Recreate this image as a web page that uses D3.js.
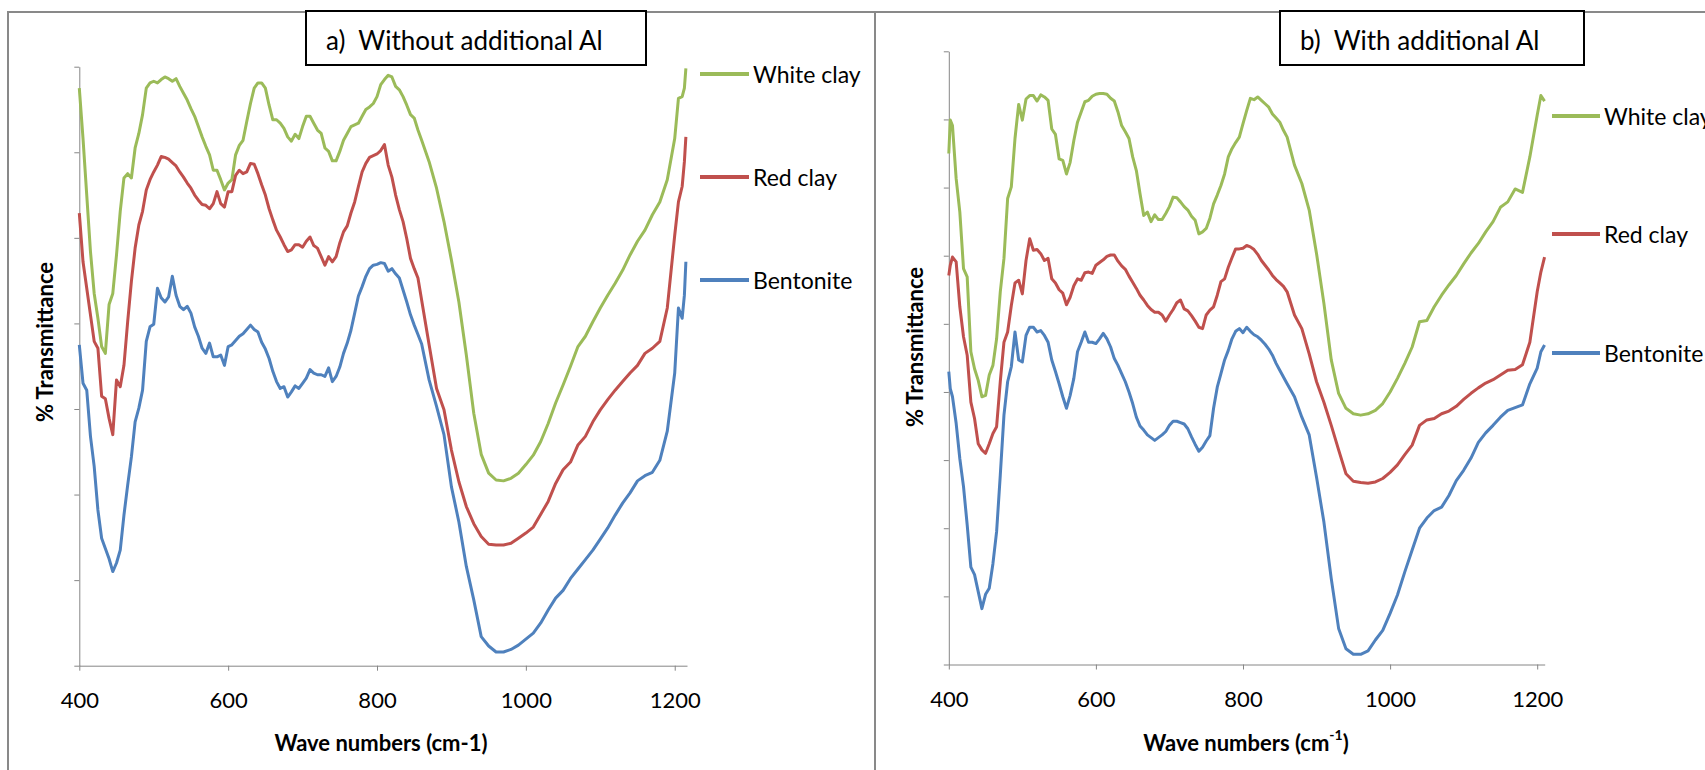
<!DOCTYPE html>
<html>
<head>
<meta charset="utf-8">
<script src="https://cdn.jsdelivr.net/npm/d3@7"></script>
<style>
  body { margin: 0; background: #fff; }
  text { font-family: Lato, "Open Sans", sans-serif; fill: #000; }
</style>
</head>
<body>
<svg id="chart" width="1705" height="770"></svg>
<script>
// ---- data: panel a) without additional Al ----
const wavenumbersA = [400,405,410,415,420,425,430,435,440,445,450,455,460,465,470,475,480,485,490,495,
  500,505,510,515,520,525,530,535,540,545,550,555,560,565,570,575,580,585,590,595,
  600,605,610,615,620,625,630,635,640,645,650,655,660,665,670,675,680,685,690,695,
  700,705,710,715,720,725,730,735,740,745,750,755,760,765,770,775,780,785,790,795,
  800,805,810,815,820,825,830,835,840,845,850,855,860,
  870,880,890,900,910,920,930,940,950,960,970,980,990,1000,1010,1020,1030,1040,1050,1060,
  1070,1080,1090,1100,1110,1120,1130,1140,1150,1160,1170,1180,1190,1200,1205,1210,1213,1215];

const whiteClayA = [67.5,61.6,55.0,48.4,43.5,40.6,37.3,36.5,42.2,43.5,48.0,53.1,57.0,57.5,57.0,60.5,62.2,64.4,67.5,68.1,
  68.3,68.1,68.5,68.8,68.6,68.3,68.6,67.7,66.9,66.1,65.1,64.2,63.0,61.8,60.7,59.7,57.9,57.9,56.8,55.6,
  56.4,56.8,59.7,60.8,61.4,63.6,65.7,67.5,68.1,68.1,67.5,65.5,63.8,63.8,63.4,62.8,61.8,61.3,62.1,61.6,
  63.0,64.2,64.2,63.4,62.6,62.2,60.5,60.1,59.0,59.0,60.1,61.4,62.2,63.0,63.2,63.4,64.2,65.0,65.3,65.7,
  66.5,67.9,68.5,69.0,68.8,67.7,67.3,66.5,65.5,64.4,64.0,62.6,61.4,
  58.9,55.8,51.9,47.4,42.5,36.3,29.5,24.7,22.5,21.7,21.6,21.9,22.5,23.5,24.6,26.2,28.3,30.7,32.8,35.0,
  37.3,38.5,40.2,41.8,43.3,44.7,46.2,48.0,49.6,50.9,52.7,54.2,56.8,61.6,66.3,66.5,67.5,69.8];

const redClayA = [52.9,47.2,44.1,41.0,37.9,37.1,31.5,31.2,28.9,27.0,33.4,32.6,35.1,40.2,44.9,48.8,51.5,53.1,55.6,56.8,
  57.7,58.5,59.5,59.4,59.2,58.8,58.4,57.7,57.1,56.4,55.8,55.0,54.4,53.9,53.8,53.4,54.0,55.4,54.0,53.6,
  55.4,55.4,57.3,57.9,57.5,57.7,58.7,58.6,57.5,56.2,55.0,53.4,52.1,50.9,50.1,49.2,48.4,48.6,49.2,49.2,
  48.9,49.6,50.1,49.1,48.8,47.8,46.8,47.8,47.2,47.8,49.4,50.7,51.4,52.9,54.2,56.0,57.7,58.7,59.4,59.6,
  59.8,60.2,60.9,58.5,57.1,55.0,53.3,51.9,49.9,47.6,46.4,45.3,42.7,
  37.5,32.4,29.9,25.2,21.5,18.6,16.6,15.1,14.2,14.1,14.1,14.3,14.9,15.5,16.2,17.7,19.2,21.3,22.9,23.8,
  25.8,26.8,28.5,29.9,31.1,32.2,33.2,34.2,35.1,36.5,37.1,37.9,41.8,50.3,54.2,56.0,58.9,61.8];

const bentoniteA = [37.5,33.0,32.2,26.8,23.3,18.2,14.9,13.7,12.5,11.0,12.0,13.5,17.6,21.1,24.4,28.5,30.1,32.2,37.9,39.6,
  39.9,44.1,43.0,42.5,43.1,45.5,43.3,42.0,41.6,42.0,41.2,39.6,38.5,37.1,36.5,37.7,36.1,36.1,36.3,35.1,
  37.3,37.5,38.0,38.5,38.8,39.3,39.8,39.3,39.0,37.8,37.0,35.9,34.4,33.2,32.4,32.6,31.4,32.0,32.7,32.4,
  33.0,33.6,34.6,34.2,34.0,34.0,33.8,34.8,33.2,33.8,34.9,36.5,37.7,39.2,41.2,43.2,44.3,45.5,46.4,46.8,
  46.9,47.1,47.0,46.1,46.4,45.8,45.3,43.9,42.5,41.0,39.8,38.7,37.6,
  33.4,30.3,27.0,20.9,16.8,11.6,7.7,3.4,2.3,1.6,1.6,1.9,2.4,3.1,3.8,5.0,6.5,7.9,8.8,10.2,
  11.3,12.4,13.5,14.8,16.1,17.6,19.0,20.2,21.6,22.2,22.6,24.0,27.4,34.2,41.8,40.6,43.3,47.2];

// ---- data: panel b) with additional Al ----
const wavenumbersB = [400,402,405,410,415,420,425,430,435,440,445,450,455,460,465,470,475,480,485,490,495,
  500,505,510,515,520,525,530,535,540,545,550,555,560,565,570,575,580,585,590,595,
  600,605,610,615,620,625,630,635,640,645,650,655,660,665,670,675,680,685,690,695,
  700,705,710,715,720,725,730,735,740,745,750,755,760,765,770,775,780,785,790,795,
  800,805,810,815,820,825,830,835,840,845,850,855,860,
  870,880,890,900,910,920,930,940,950,960,970,980,990,1000,1010,1020,1030,1040,1050,1060,
  1070,1080,1090,1100,1110,1120,1130,1140,1150,1160,1170,1180,1190,1200,1205,1210];

const whiteClayB = [75.0,79.9,79.1,71.3,66.4,58.1,56.9,45.9,43.4,41.7,39.3,39.5,42.5,43.9,47.8,54.7,59.6,68.4,70.1,77.2,82.2,
  79.9,83.0,83.5,83.5,82.7,83.6,83.3,82.8,78.6,77.8,74.2,74.0,72.0,73.7,76.9,79.6,81.1,82.6,82.8,83.4,
  83.7,83.8,83.8,83.7,83.1,82.7,81.1,79.1,78.2,77.2,74.5,72.5,69.1,65.9,66.4,65.0,66.0,65.3,65.3,66.2,
  67.2,68.6,68.5,67.9,67.2,66.7,65.8,65.2,63.2,63.5,64.0,65.5,67.6,68.9,70.3,72.0,74.5,75.7,76.6,77.4,
  79.4,81.3,83.1,82.9,83.3,82.8,82.3,81.8,80.8,80.2,79.6,78.4,77.4,
  73.3,70.6,66.7,60.3,53.0,44.7,39.8,37.6,36.8,36.6,36.8,37.3,38.3,40.0,42.0,44.2,46.6,50.3,50.5,52.5,
  54.2,55.7,57.1,58.8,60.4,61.8,63.5,65.0,67.1,67.9,69.8,69.3,74.5,80.6,83.5,82.7];

const redClayB = [57.1,58.6,59.8,59.1,52.5,48.1,45.4,38.5,36.1,32.4,31.5,31.0,32.4,33.9,34.9,41.5,47.3,48.8,52.7,56.0,56.4,
  54.4,59.3,62.5,60.8,60.9,60.3,59.3,59.6,56.6,56.0,55.0,54.5,52.8,53.9,55.6,56.6,56.4,57.5,57.6,57.4,
  58.6,59.0,59.4,59.9,60.1,60.1,59.2,58.5,58.0,57.0,56.1,55.2,54.2,53.5,52.7,52.1,51.7,51.7,51.3,50.4,
  51.3,52.1,53.1,53.5,52.2,51.9,51.2,50.4,49.5,49.3,51.3,52.0,52.5,54.2,56.2,56.6,58.3,59.7,61.0,61.0,
  61.1,61.5,61.3,60.9,60.2,59.3,58.6,57.9,57.1,56.5,56.0,55.5,54.7,
  51.3,49.3,45.6,41.5,38.5,35.1,31.5,28.0,26.9,26.7,26.6,26.8,27.3,28.2,29.3,30.8,32.2,35.1,35.9,36.1,
  36.8,37.2,37.9,38.9,39.8,40.6,41.3,41.8,42.5,43.2,43.3,44.0,47.3,54.7,57.6,59.8];

const bentoniteB = [43.0,40.5,39.3,35.4,30.2,26.1,20.5,14.3,13.2,10.7,8.2,10.3,11.2,14.8,19.5,27.8,36.6,41.5,43.7,48.8,44.7,
  44.4,48.3,49.5,49.5,48.8,49.0,48.3,47.3,44.7,43.0,41.2,39.3,37.6,39.5,42.0,45.9,47.3,48.8,47.3,47.3,
  47.1,47.8,48.6,47.8,46.6,44.9,43.9,42.7,41.5,40.0,38.3,36.3,35.0,34.4,33.7,33.3,32.9,33.3,33.7,34.2,
  35.1,35.7,35.7,35.5,35.3,34.6,33.4,32.3,31.3,31.9,32.8,33.6,37.6,40.7,42.7,44.7,46.1,47.8,48.9,49.3,
  48.7,49.5,48.9,48.4,48.1,47.6,47.0,46.3,45.4,44.2,43.2,42.2,41.2,
  39.3,36.3,33.7,27.5,20.9,12.6,5.3,2.3,1.5,1.5,2.0,3.6,5.0,7.5,10.2,13.6,16.8,20.0,21.5,22.6,
  23.1,24.8,27.0,28.5,30.3,32.6,34.0,35.1,36.3,37.3,37.7,38.1,41.2,43.5,45.9,46.9];

const seriesNames = ["White clay", "Red clay", "Bentonite"];
const seriesColors = ["#9bbb59", "#c0504d", "#4f81bd"];
const xTickValues = [400, 600, 800, 1000, 1200];
const yTicksA = [0, 10, 20, 30, 40, 50, 60, 70];
const yTicksB = [0, 10, 20, 30, 40, 50, 60, 70, 80, 90];

const svg = d3.select("#chart");

// 外框 (兩個 chart area)
svg.append("rect").attr("x", 8).attr("y", 12).attr("width", 867).attr("height", 800)
  .attr("fill", "none").attr("stroke", "#898989").attr("stroke-width", 2);
svg.append("rect").attr("x", 875).attr("y", 12).attr("width", 900).attr("height", 800)
  .attr("fill", "none").attr("stroke", "#898989").attr("stroke-width", 2);

function drawPanel(p) {
  const g = svg.append("g");

  const x = d3.scaleLinear().domain([400, p.xMax]).range([p.left, p.right]);
  const y = d3.scaleLinear().domain([0, p.yMax]).range([p.bottom, p.top]);

  // y 軸 (no labels)
  g.append("g")
    .attr("transform", `translate(${p.left},0)`)
    .call(d3.axisLeft(y).tickValues(p.yTicks).tickFormat("").tickSize(5).tickSizeOuter(0))
    .call(a => a.selectAll("line,path").attr("stroke", "#868686"));

  // x 軸
  g.append("g")
    .attr("transform", `translate(0,${p.bottom})`)
    .call(d3.axisBottom(x).tickValues(xTickValues).tickFormat(d3.format("d")).tickSize(5).tickSizeOuter(0).tickPadding(22))
    .call(a => a.selectAll("line,path").attr("stroke", "#868686"))
    .call(a => a.selectAll("text").style("font-family", "Lato").style("font-size", "22px").attr("fill", "#000"));

  // 曲線
  const series = [p.white, p.red, p.bentonite];
  series.forEach((vals, i) => {
    const line = d3.line()
      .x((d, j) => x(p.wn[j]))
      .y(d => y(d));
    g.append("path")
      .datum(vals)
      .attr("d", line)
      .attr("fill", "none")
      .attr("stroke", seriesColors[i])
      .attr("stroke-width", 3)
      .attr("stroke-linejoin", "round");
  });

  // 圖例
  seriesNames.forEach((name, i) => {
    g.append("line")
      .attr("x1", p.legX1).attr("x2", p.legX2)
      .attr("y1", p.legY[i]).attr("y2", p.legY[i])
      .attr("stroke", seriesColors[i]).attr("stroke-width", 4);
    g.append("text")
      .attr("x", p.legX2 + 4).attr("y", p.legY[i])
      .attr("dominant-baseline", "central")
      .style("font-size", "23px")
      .text(name);
  });

  // 標題框
  g.append("rect")
    .attr("x", p.boxX).attr("y", 11).attr("width", p.boxW).attr("height", 54)
    .attr("fill", "#fff").attr("stroke", "#000").attr("stroke-width", 2);
  g.append("text")
    .attr("x", p.boxX + 20).attr("y", 50)
    .style("font-size", "26px")
    .style("white-space", "pre")
    .text(p.title);

  // y 軸標題
  g.append("text")
    .attr("transform", `translate(${p.yTitleX},${p.yTitleY}) rotate(-90)`)
    .attr("text-anchor", "middle")
    .attr("dominant-baseline", "central")
    .style("font-size", "22px")
    .style("font-weight", "bold")
    .text("% Transmittance");

  // x 軸標題
  const xt = g.append("text")
    .attr("x", p.xTitleX).attr("y", 742)
    .attr("text-anchor", "middle")
    .attr("dominant-baseline", "central")
    .style("font-size", "22px")
    .style("font-weight", "bold");
  if (p.superscript) {
    xt.append("tspan").text("Wave numbers (cm");
    xt.append("tspan").attr("dy", -8).style("font-size", "14px").text("-1");
    xt.append("tspan").attr("dy", 8).text(")");
  } else {
    xt.text("Wave numbers (cm-1)");
  }
}

drawPanel({
  wn: wavenumbersA, white: whiteClayA, red: redClayA, bentonite: bentoniteA,
  xMax: 1216.5, yMax: 70, yTicks: yTicksA,
  left: 79.3, right: 687, top: 66.7, bottom: 665.7,
  legX1: 700, legX2: 749, legY: [74, 177, 280],
  boxX: 306, boxW: 340, title: "a)  Without additional Al",
  yTitleX: 44.5, yTitleY: 342, xTitleX: 381, superscript: false
});

drawPanel({
  wn: wavenumbersB, white: whiteClayB, red: redClayB, bentonite: bentoniteB,
  xMax: 1210.2, yMax: 90, yTicks: yTicksB,
  left: 948.8, right: 1544.7, top: 51.3, bottom: 664.5,
  legX1: 1552, legX2: 1600, legY: [116, 234, 353],
  boxX: 1280, boxW: 304, title: "b)  With additional Al",
  yTitleX: 914, yTitleY: 347, xTitleX: 1246, superscript: true
});
</script>
</body>
</html>
